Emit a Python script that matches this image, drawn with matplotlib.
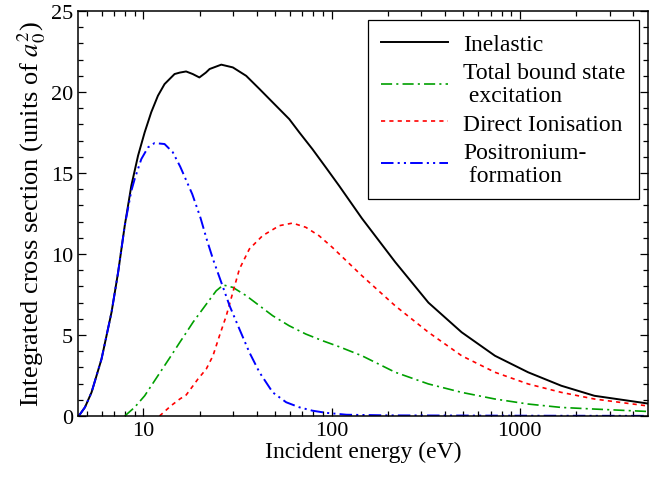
import matplotlib
matplotlib.use('Agg')
import matplotlib.pyplot as plt
from matplotlib.ticker import MultipleLocator, LogLocator, NullFormatter, FixedLocator, FixedFormatter

plt.rcParams['font.family'] = ['Liberation Serif', 'DejaVu Serif']
plt.rcParams['mathtext.fontset'] = 'stix'
plt.rcParams['lines.scale_dashes'] = False

# Inelastic (total)
e_inel = [4.54, 4.9, 5.31, 6.0, 6.78, 7.35, 7.97, 8.64, 9.38, 10.17, 11.02, 11.96, 12.97,
          14.66, 15.63, 16.88, 18.31, 19.86, 21.5, 22.5, 25.96, 29.9, 35.2, 41.4, 48.7,
          59.6, 67.4, 79.1, 93.2, 109.6, 145, 218, 327, 491, 738, 1107, 1661, 2490, 4800]
s_inel = [0.0, 0.54, 1.46, 3.52, 6.40, 8.87, 11.75, 14.22, 16.07, 17.51, 18.75, 19.77, 20.49,
          21.11, 21.2, 21.27, 21.11, 20.9, 21.2, 21.42, 21.69, 21.52, 21.0, 20.19, 19.36,
          18.33, 17.51, 16.48, 15.35, 14.22, 12.2, 9.5, 7.0, 5.17, 3.72, 2.70, 1.87, 1.25, 0.77]

# Total bound state excitation
e_exc = [7.97, 9.0, 10.17, 11.96, 14.05, 15.63, 16.5, 18.4, 21.6, 24.4, 26.6, 29.9, 35.2,
         41.4, 48.7, 59.6, 73.0, 89.5, 109.6, 145, 218, 327, 491, 738, 1107, 1661, 2490, 4800]
s_exc = [0.0, 0.54, 1.25, 2.49, 3.72, 4.55, 4.96, 5.8, 6.9, 7.73, 8.09, 7.94, 7.43,
         6.81, 6.19, 5.57, 5.06, 4.65, 4.28, 3.72, 2.70, 1.98, 1.46, 1.05, 0.74, 0.53, 0.43, 0.28]

# Direct ionisation
e_ion = [12.2, 14.05, 15.63, 16.9, 18.38, 19.5, 21.6, 23.45, 25.4, 27.6, 29.9, 32.4, 36.6,
         43.0, 52.8, 62.1, 73.0, 85.8, 101, 145, 218, 327, 491, 738, 1107, 1661, 2490, 4800]
s_ion = [0.0, 0.64, 1.05, 1.3, 1.87, 2.28, 2.90, 3.72, 4.96, 6.19, 7.63, 9.07, 10.31,
         11.13, 11.75, 11.91, 11.65, 11.13, 10.41, 8.66, 6.8, 5.17, 3.72, 2.70, 1.98, 1.46,
         1.05, 0.62]

# Positronium formation
e_ps = [4.54, 4.9, 5.31, 6.0, 6.78, 7.35, 7.97, 8.64, 9.0, 9.76, 10.59, 11.48, 12.97, 14.35,
        15.7, 18.2, 20.1, 21.8, 23.45, 25.96, 28.73, 32.4, 36.6, 41.4, 48.7, 57.4, 67.4,
        79.1, 93.2, 120, 200, 1000, 4800]
s_ps = [0.0, 0.54, 1.46, 3.52, 6.40, 8.87, 11.75, 13.9, 14.63, 15.86, 16.58, 16.85, 16.79,
        16.28, 15.4, 13.7, 12.26, 10.85, 9.69, 8.25, 6.81, 5.37, 3.93, 2.70, 1.46, 0.85,
        0.54, 0.33, 0.2, 0.08, 0.04, 0.02, 0.01]

fig = plt.figure(figsize=(6.5, 4.81), dpi=100)
ax = fig.add_axes([0.12, 0.133, 0.877, 0.842])

ax.plot(e_inel, s_inel, color='black', lw=1.4, label='Inelastic')
ax.plot(e_exc, s_exc, color='#00a000', lw=1.2, dashes=(8, 3, 1.5, 3),
        label='Total bound state\n excitation')
ax.plot(e_ion, s_ion, color='red', lw=1.2, dashes=(3, 3), label='Direct Ionisation')
ax.plot(e_ps, s_ps, color='blue', lw=1.4, dashes=(9, 3, 1.5, 3, 1.5, 3),
        label='Positronium-\n formation')

ax.set_xscale('log')
ax.set_xlim(4.5, 4800)
ax.set_ylim(0, 25)
ax.yaxis.set_major_locator(MultipleLocator(5))
ax.yaxis.set_minor_locator(MultipleLocator(1))
ax.xaxis.set_major_locator(FixedLocator([10, 100, 1000]))
ax.xaxis.set_major_formatter(FixedFormatter(['10', '100', '1000']))
ax.xaxis.set_minor_locator(LogLocator(base=10, subs=range(2, 10)))
ax.xaxis.set_minor_formatter(NullFormatter())

ax.tick_params(which='both', direction='in', top=True, right=True, labelsize=16, width=0.9)
ax.tick_params(which='major', length=6)
ax.tick_params(which='minor', length=3.5)
for sp in ax.spines.values():
    sp.set_linewidth(1.1)

ax.set_xlabel('Incident energy (eV)', fontsize=17, labelpad=1)
ax.set_ylabel('Integrated cross section (units of $a_0^2$)', fontsize=19, labelpad=2)

leg = ax.legend(loc='upper right', fontsize=17, frameon=True, fancybox=False,
                edgecolor='black', framealpha=1, handlelength=2.85, handletextpad=0.65,
                labelspacing=0.3, borderaxespad=0.4, borderpad=0.55)
leg.get_frame().set_linewidth(0.9)
for t in leg.get_texts():
    t.set_linespacing(1.12)

fig.savefig('out.png', dpi=100)
